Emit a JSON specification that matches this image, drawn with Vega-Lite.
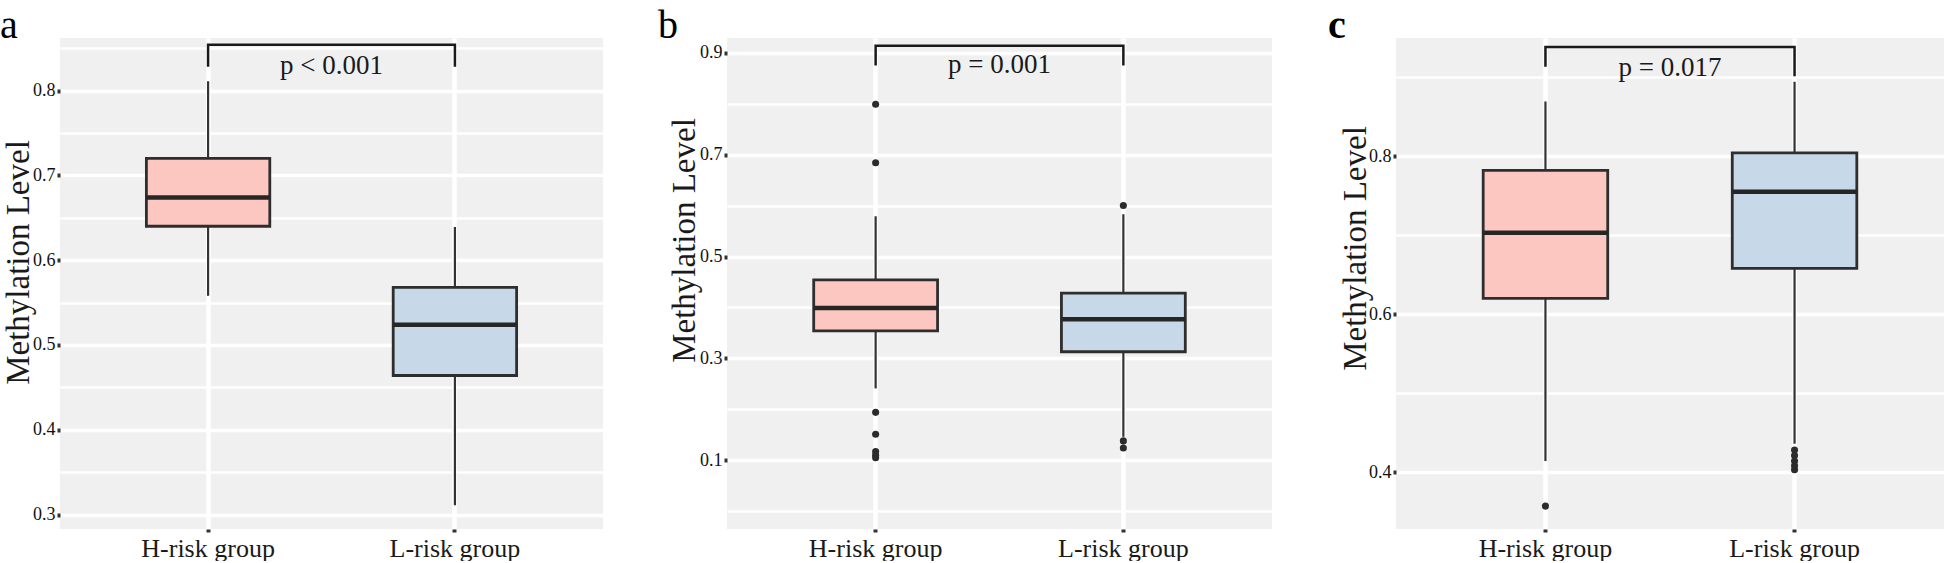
{
  "$schema": "https://vega.github.io/schema/vega-lite/v6.json",
  "background": "white",
  "padding": {"left": 0, "top": 6, "right": 0, "bottom": 0},
  "bounds": "flush",
  "spacing": 124,
  "datasets": {
    "boxes": [
      {"panel": "a", "group": "H-risk group", "lower": 0.558, "q1": 0.640, "median": 0.674, "q3": 0.720, "upper": 0.811},
      {"panel": "a", "group": "L-risk group", "lower": 0.311, "q1": 0.464, "median": 0.524, "q3": 0.568, "upper": 0.639},
      {"panel": "b", "group": "H-risk group", "lower": 0.241, "q1": 0.354, "median": 0.399, "q3": 0.454, "upper": 0.579},
      {"panel": "b", "group": "L-risk group", "lower": 0.146, "q1": 0.313, "median": 0.377, "q3": 0.428, "upper": 0.583},
      {"panel": "c", "group": "H-risk group", "lower": 0.414, "q1": 0.620, "median": 0.703, "q3": 0.782, "upper": 0.869},
      {"panel": "c", "group": "L-risk group", "lower": 0.436, "q1": 0.658, "median": 0.755, "q3": 0.804, "upper": 0.894}
    ],
    "outliers": [
      {"panel": "b", "group": "H-risk group", "value": 0.799},
      {"panel": "b", "group": "H-risk group", "value": 0.684},
      {"panel": "b", "group": "H-risk group", "value": 0.194},
      {"panel": "b", "group": "H-risk group", "value": 0.151},
      {"panel": "b", "group": "H-risk group", "value": 0.117},
      {"panel": "b", "group": "H-risk group", "value": 0.110},
      {"panel": "b", "group": "H-risk group", "value": 0.105},
      {"panel": "b", "group": "L-risk group", "value": 0.600},
      {"panel": "b", "group": "L-risk group", "value": 0.138},
      {"panel": "b", "group": "L-risk group", "value": 0.124},
      {"panel": "c", "group": "H-risk group", "value": 0.357},
      {"panel": "c", "group": "L-risk group", "value": 0.428},
      {"panel": "c", "group": "L-risk group", "value": 0.421},
      {"panel": "c", "group": "L-risk group", "value": 0.414},
      {"panel": "c", "group": "L-risk group", "value": 0.408},
      {"panel": "c", "group": "L-risk group", "value": 0.403}
    ],
    "bracket": [
      {"panel": "a", "group": "H-risk group", "y": 0.828, "order": 1},
      {"panel": "a", "group": "H-risk group", "y": 0.854, "order": 2},
      {"panel": "a", "group": "L-risk group", "y": 0.854, "order": 3},
      {"panel": "a", "group": "L-risk group", "y": 0.828, "order": 4},
      {"panel": "b", "group": "H-risk group", "y": 0.875, "order": 1},
      {"panel": "b", "group": "H-risk group", "y": 0.914, "order": 2},
      {"panel": "b", "group": "L-risk group", "y": 0.914, "order": 3},
      {"panel": "b", "group": "L-risk group", "y": 0.875, "order": 4},
      {"panel": "c", "group": "H-risk group", "y": 0.913, "order": 1},
      {"panel": "c", "group": "H-risk group", "y": 0.938, "order": 2},
      {"panel": "c", "group": "L-risk group", "y": 0.938, "order": 3},
      {"panel": "c", "group": "L-risk group", "y": 0.901, "order": 4}
    ],
    "pvalues": [
      {"panel": "a", "group": "H-risk group", "label": "p < 0.001", "y": 0.820},
      {"panel": "b", "group": "H-risk group", "label": "p = 0.001", "y": 0.861},
      {"panel": "c", "group": "H-risk group", "label": "p = 0.017", "y": 0.901}
    ]
  },
  "hconcat": [
    {
      "width": 543,
      "height": 491,
      "title": {"text": "a", "anchor": "start", "frame": "group", "dx": -60, "dy": 40, "offset": 0, "baseline": "alphabetic", "fontSize": 40, "font": "Liberation Serif", "fontWeight": "normal", "color": "#000000"},
      "encoding": {
        "x": {
          "field": "group", "type": "nominal",
          "scale": {"type": "band", "domain": ["H-risk group", "L-risk group"], "paddingInner": 0.5, "paddingOuter": 0.35},
          "axis": {"title": null, "bandPosition": 0.5, "grid": true, "gridColor": "#FFFFFF", "gridWidth": 4.5, "domain": false, "tickSize": 3, "tickWidth": 4, "tickColor": "#333333", "labelAngle": 0, "labelFont": "Liberation Serif", "labelFontSize": 26, "labelColor": "#1a1a1a", "labelPadding": 3}
        }
      },
      "layer": [
        {
          "data": {"name": "boxes"},
          "transform": [{"filter": "datum.panel == 'a'"}],
          "mark": {"type": "rule", "color": "#333333", "strokeWidth": 2.2},
          "encoding": {
            "y": {
              "field": "lower", "type": "quantitative",
              "scale": {"domain": [0.283, 0.862], "nice": false, "zero": false},
              "axis": {
                "values": [0.3, 0.35, 0.4, 0.45, 0.5, 0.55, 0.6, 0.65, 0.7, 0.75, 0.8, 0.85],
                "title": "Methylation Level", "titleFont": "Liberation Serif", "titleFontSize": 33, "titleFontWeight": "normal", "titleColor": "#1a1a1a",
                "titleX": -32, "titleY": 224, "titleBaseline": "alphabetic", "titleAlign": "center", "titleAngle": 270,
                "grid": true, "gridColor": "#FFFFFF",
                "gridWidth": {"condition": {"test": "round(datum.value*100) % 10 == 0", "value": 3.5}, "value": 2.5},
                "tickColor": {"condition": {"test": "round(datum.value*100) % 10 == 0", "value": "#333333"}, "value": "transparent"},
                "tickSize": 3, "tickWidth": 4, "domain": false,
                "labelExpr": "round(datum.value*100) % 10 == 0 ? format(datum.value, '.1f') : ''",
                "labelFont": "Liberation Serif", "labelFontSize": 18, "labelColor": "#111111", "labelPadding": 2, "labelOverlap": false
              }
            },
            "y2": {"field": "upper"}
          }
        },
        {
          "data": {"name": "boxes"},
          "transform": [{"filter": "datum.panel == 'a'"}],
          "mark": {"type": "bar", "stroke": "#2e2e2e", "strokeWidth": 2.8, "opacity": 1},
          "encoding": {
            "y": {"field": "q1", "type": "quantitative", "scale": {"domain": [0.283, 0.862], "nice": false, "zero": false}},
            "y2": {"field": "q3"},
            "color": {"field": "group", "type": "nominal", "scale": {"domain": ["H-risk group", "L-risk group"], "range": ["#FCC6C1", "#C7D9E9"]}, "legend": null}
          }
        },
        {
          "data": {"name": "boxes"},
          "transform": [{"filter": "datum.panel == 'a'"}],
          "mark": {"type": "tick", "color": "#262626", "thickness": 4.5, "size": 123, "opacity": 1},
          "encoding": {
            "y": {"field": "median", "type": "quantitative", "scale": {"domain": [0.283, 0.862], "nice": false, "zero": false}}
          }
        },
        {
          "data": {"name": "bracket"},
          "transform": [{"filter": "datum.panel == 'a'"}],
          "mark": {"type": "line", "color": "#1a1a1a", "strokeWidth": 2.5},
          "encoding": {
            "y": {"field": "y", "type": "quantitative", "scale": {"domain": [0.283, 0.862], "nice": false, "zero": false}},
            "order": {"field": "order", "type": "quantitative"}
          }
        },
        {
          "data": {"name": "pvalues"},
          "transform": [{"filter": "datum.panel == 'a'"}],
          "mark": {"type": "text", "font": "Liberation Serif", "fontSize": 27, "baseline": "alphabetic", "align": "center", "color": "#1a1a1a", "dx": 123.4},
          "encoding": {
            "y": {"field": "y", "type": "quantitative", "scale": {"domain": [0.283, 0.862], "nice": false, "zero": false}},
            "text": {"field": "label"}
          }
        }
      ]
    },
    {
      "width": 545,
      "height": 491,
      "title": {"text": "b", "anchor": "start", "frame": "group", "dx": -69, "dy": 40, "offset": 0, "baseline": "alphabetic", "fontSize": 40, "font": "Liberation Serif", "fontWeight": "normal", "color": "#000000"},
      "encoding": {
        "x": {
          "field": "group", "type": "nominal",
          "scale": {"type": "band", "domain": ["H-risk group", "L-risk group"], "paddingInner": 0.5, "paddingOuter": 0.35},
          "axis": {"title": null, "bandPosition": 0.5, "grid": true, "gridColor": "#FFFFFF", "gridWidth": 4.5, "domain": false, "tickSize": 3, "tickWidth": 4, "tickColor": "#333333", "labelAngle": 0, "labelFont": "Liberation Serif", "labelFontSize": 26, "labelColor": "#1a1a1a", "labelPadding": 3}
        }
      },
      "layer": [
        {
          "data": {"name": "boxes"},
          "transform": [{"filter": "datum.panel == 'b'"}],
          "mark": {"type": "rule", "color": "#333333", "strokeWidth": 2.2},
          "encoding": {
            "y": {
              "field": "lower", "type": "quantitative",
              "scale": {"domain": [-0.035, 0.929], "nice": false, "zero": false},
              "axis": {
                "values": [0, 0.1, 0.2, 0.3, 0.4, 0.5, 0.6, 0.7, 0.8, 0.9],
                "title": "Methylation Level", "titleFont": "Liberation Serif", "titleFontSize": 33, "titleFontWeight": "normal", "titleColor": "#1a1a1a",
                "titleX": -33, "titleY": 202, "titleBaseline": "alphabetic", "titleAlign": "center", "titleAngle": 270,
                "grid": true, "gridColor": "#FFFFFF",
                "gridWidth": {"condition": {"test": "round(datum.value*10) % 2 == 1", "value": 3.5}, "value": 2.5},
                "tickColor": {"condition": {"test": "round(datum.value*10) % 2 == 1", "value": "#333333"}, "value": "transparent"},
                "tickSize": 3, "tickWidth": 4, "domain": false,
                "labelExpr": "round(datum.value*10) % 2 == 1 ? format(datum.value, '.1f') : ''",
                "labelFont": "Liberation Serif", "labelFontSize": 18, "labelColor": "#111111", "labelPadding": 2, "labelOverlap": false
              }
            },
            "y2": {"field": "upper"}
          }
        },
        {
          "data": {"name": "boxes"},
          "transform": [{"filter": "datum.panel == 'b'"}],
          "mark": {"type": "bar", "stroke": "#2e2e2e", "strokeWidth": 2.8, "opacity": 1},
          "encoding": {
            "y": {"field": "q1", "type": "quantitative", "scale": {"domain": [-0.035, 0.929], "nice": false, "zero": false}},
            "y2": {"field": "q3"},
            "color": {"field": "group", "type": "nominal", "scale": {"domain": ["H-risk group", "L-risk group"], "range": ["#FCC6C1", "#C7D9E9"]}, "legend": null}
          }
        },
        {
          "data": {"name": "boxes"},
          "transform": [{"filter": "datum.panel == 'b'"}],
          "mark": {"type": "tick", "color": "#262626", "thickness": 4.5, "size": 124, "opacity": 1},
          "encoding": {
            "y": {"field": "median", "type": "quantitative", "scale": {"domain": [-0.035, 0.929], "nice": false, "zero": false}}
          }
        },
        {
          "data": {"name": "outliers"},
          "transform": [{"filter": "datum.panel == 'b'"}],
          "mark": {"type": "circle", "color": "#2b2b2b", "size": 50, "opacity": 1},
          "encoding": {
            "y": {"field": "value", "type": "quantitative", "scale": {"domain": [-0.035, 0.929], "nice": false, "zero": false}}
          }
        },
        {
          "data": {"name": "bracket"},
          "transform": [{"filter": "datum.panel == 'b'"}],
          "mark": {"type": "line", "color": "#1a1a1a", "strokeWidth": 2.5},
          "encoding": {
            "y": {"field": "y", "type": "quantitative", "scale": {"domain": [-0.035, 0.929], "nice": false, "zero": false}},
            "order": {"field": "order", "type": "quantitative"}
          }
        },
        {
          "data": {"name": "pvalues"},
          "transform": [{"filter": "datum.panel == 'b'"}],
          "mark": {"type": "text", "font": "Liberation Serif", "fontSize": 27, "baseline": "alphabetic", "align": "center", "color": "#1a1a1a", "dx": 123.9},
          "encoding": {
            "y": {"field": "y", "type": "quantitative", "scale": {"domain": [-0.035, 0.929], "nice": false, "zero": false}},
            "text": {"field": "label"}
          }
        }
      ]
    },
    {
      "width": 548,
      "height": 491,
      "title": {"text": "c", "anchor": "start", "frame": "group", "dx": -68, "dy": 40, "offset": 0, "baseline": "alphabetic", "fontSize": 40, "font": "Liberation Serif", "fontWeight": "bold", "color": "#000000"},
      "encoding": {
        "x": {
          "field": "group", "type": "nominal",
          "scale": {"type": "band", "domain": ["H-risk group", "L-risk group"], "paddingInner": 0.5, "paddingOuter": 0.35},
          "axis": {"title": null, "bandPosition": 0.5, "grid": true, "gridColor": "#FFFFFF", "gridWidth": 4.5, "domain": false, "tickSize": 3, "tickWidth": 4, "tickColor": "#333333", "labelAngle": 0, "labelFont": "Liberation Serif", "labelFontSize": 26, "labelColor": "#1a1a1a", "labelPadding": 3}
        }
      },
      "layer": [
        {
          "data": {"name": "boxes"},
          "transform": [{"filter": "datum.panel == 'c'"}],
          "mark": {"type": "rule", "color": "#333333", "strokeWidth": 2.2},
          "encoding": {
            "y": {
              "field": "lower", "type": "quantitative",
              "scale": {"domain": [0.328, 0.9495], "nice": false, "zero": false},
              "axis": {
                "values": [0.4, 0.5, 0.6, 0.7, 0.8, 0.9],
                "title": "Methylation Level", "titleFont": "Liberation Serif", "titleFontSize": 33, "titleFontWeight": "normal", "titleColor": "#1a1a1a",
                "titleX": -31, "titleY": 210, "titleBaseline": "alphabetic", "titleAlign": "center", "titleAngle": 270,
                "grid": true, "gridColor": "#FFFFFF",
                "gridWidth": {"condition": {"test": "round(datum.value*10) % 2 == 0", "value": 3.5}, "value": 2.5},
                "tickColor": {"condition": {"test": "round(datum.value*10) % 2 == 0", "value": "#333333"}, "value": "transparent"},
                "tickSize": 3, "tickWidth": 4, "domain": false,
                "labelExpr": "round(datum.value*10) % 2 == 0 ? format(datum.value, '.1f') : ''",
                "labelFont": "Liberation Serif", "labelFontSize": 18, "labelColor": "#111111", "labelPadding": 2, "labelOverlap": false
              }
            },
            "y2": {"field": "upper"}
          }
        },
        {
          "data": {"name": "boxes"},
          "transform": [{"filter": "datum.panel == 'c'"}],
          "mark": {"type": "bar", "stroke": "#2e2e2e", "strokeWidth": 2.8, "opacity": 1},
          "encoding": {
            "y": {"field": "q1", "type": "quantitative", "scale": {"domain": [0.328, 0.9495], "nice": false, "zero": false}},
            "y2": {"field": "q3"},
            "color": {"field": "group", "type": "nominal", "scale": {"domain": ["H-risk group", "L-risk group"], "range": ["#FCC6C1", "#C7D9E9"]}, "legend": null}
          }
        },
        {
          "data": {"name": "boxes"},
          "transform": [{"filter": "datum.panel == 'c'"}],
          "mark": {"type": "tick", "color": "#262626", "thickness": 4.5, "size": 124.5, "opacity": 1},
          "encoding": {
            "y": {"field": "median", "type": "quantitative", "scale": {"domain": [0.328, 0.9495], "nice": false, "zero": false}}
          }
        },
        {
          "data": {"name": "outliers"},
          "transform": [{"filter": "datum.panel == 'c'"}],
          "mark": {"type": "circle", "color": "#2b2b2b", "size": 50, "opacity": 1},
          "encoding": {
            "y": {"field": "value", "type": "quantitative", "scale": {"domain": [0.328, 0.9495], "nice": false, "zero": false}}
          }
        },
        {
          "data": {"name": "bracket"},
          "transform": [{"filter": "datum.panel == 'c'"}],
          "mark": {"type": "line", "color": "#1a1a1a", "strokeWidth": 2.5},
          "encoding": {
            "y": {"field": "y", "type": "quantitative", "scale": {"domain": [0.328, 0.9495], "nice": false, "zero": false}},
            "order": {"field": "order", "type": "quantitative"}
          }
        },
        {
          "data": {"name": "pvalues"},
          "transform": [{"filter": "datum.panel == 'c'"}],
          "mark": {"type": "text", "font": "Liberation Serif", "fontSize": 27, "baseline": "alphabetic", "align": "center", "color": "#1a1a1a", "dx": 124.5},
          "encoding": {
            "y": {"field": "y", "type": "quantitative", "scale": {"domain": [0.328, 0.9495], "nice": false, "zero": false}},
            "text": {"field": "label"}
          }
        }
      ]
    }
  ],
  "config": {
    "view": {"stroke": null, "fill": "#F0F0F0"},
    "font": "Liberation Serif"
  }
}
